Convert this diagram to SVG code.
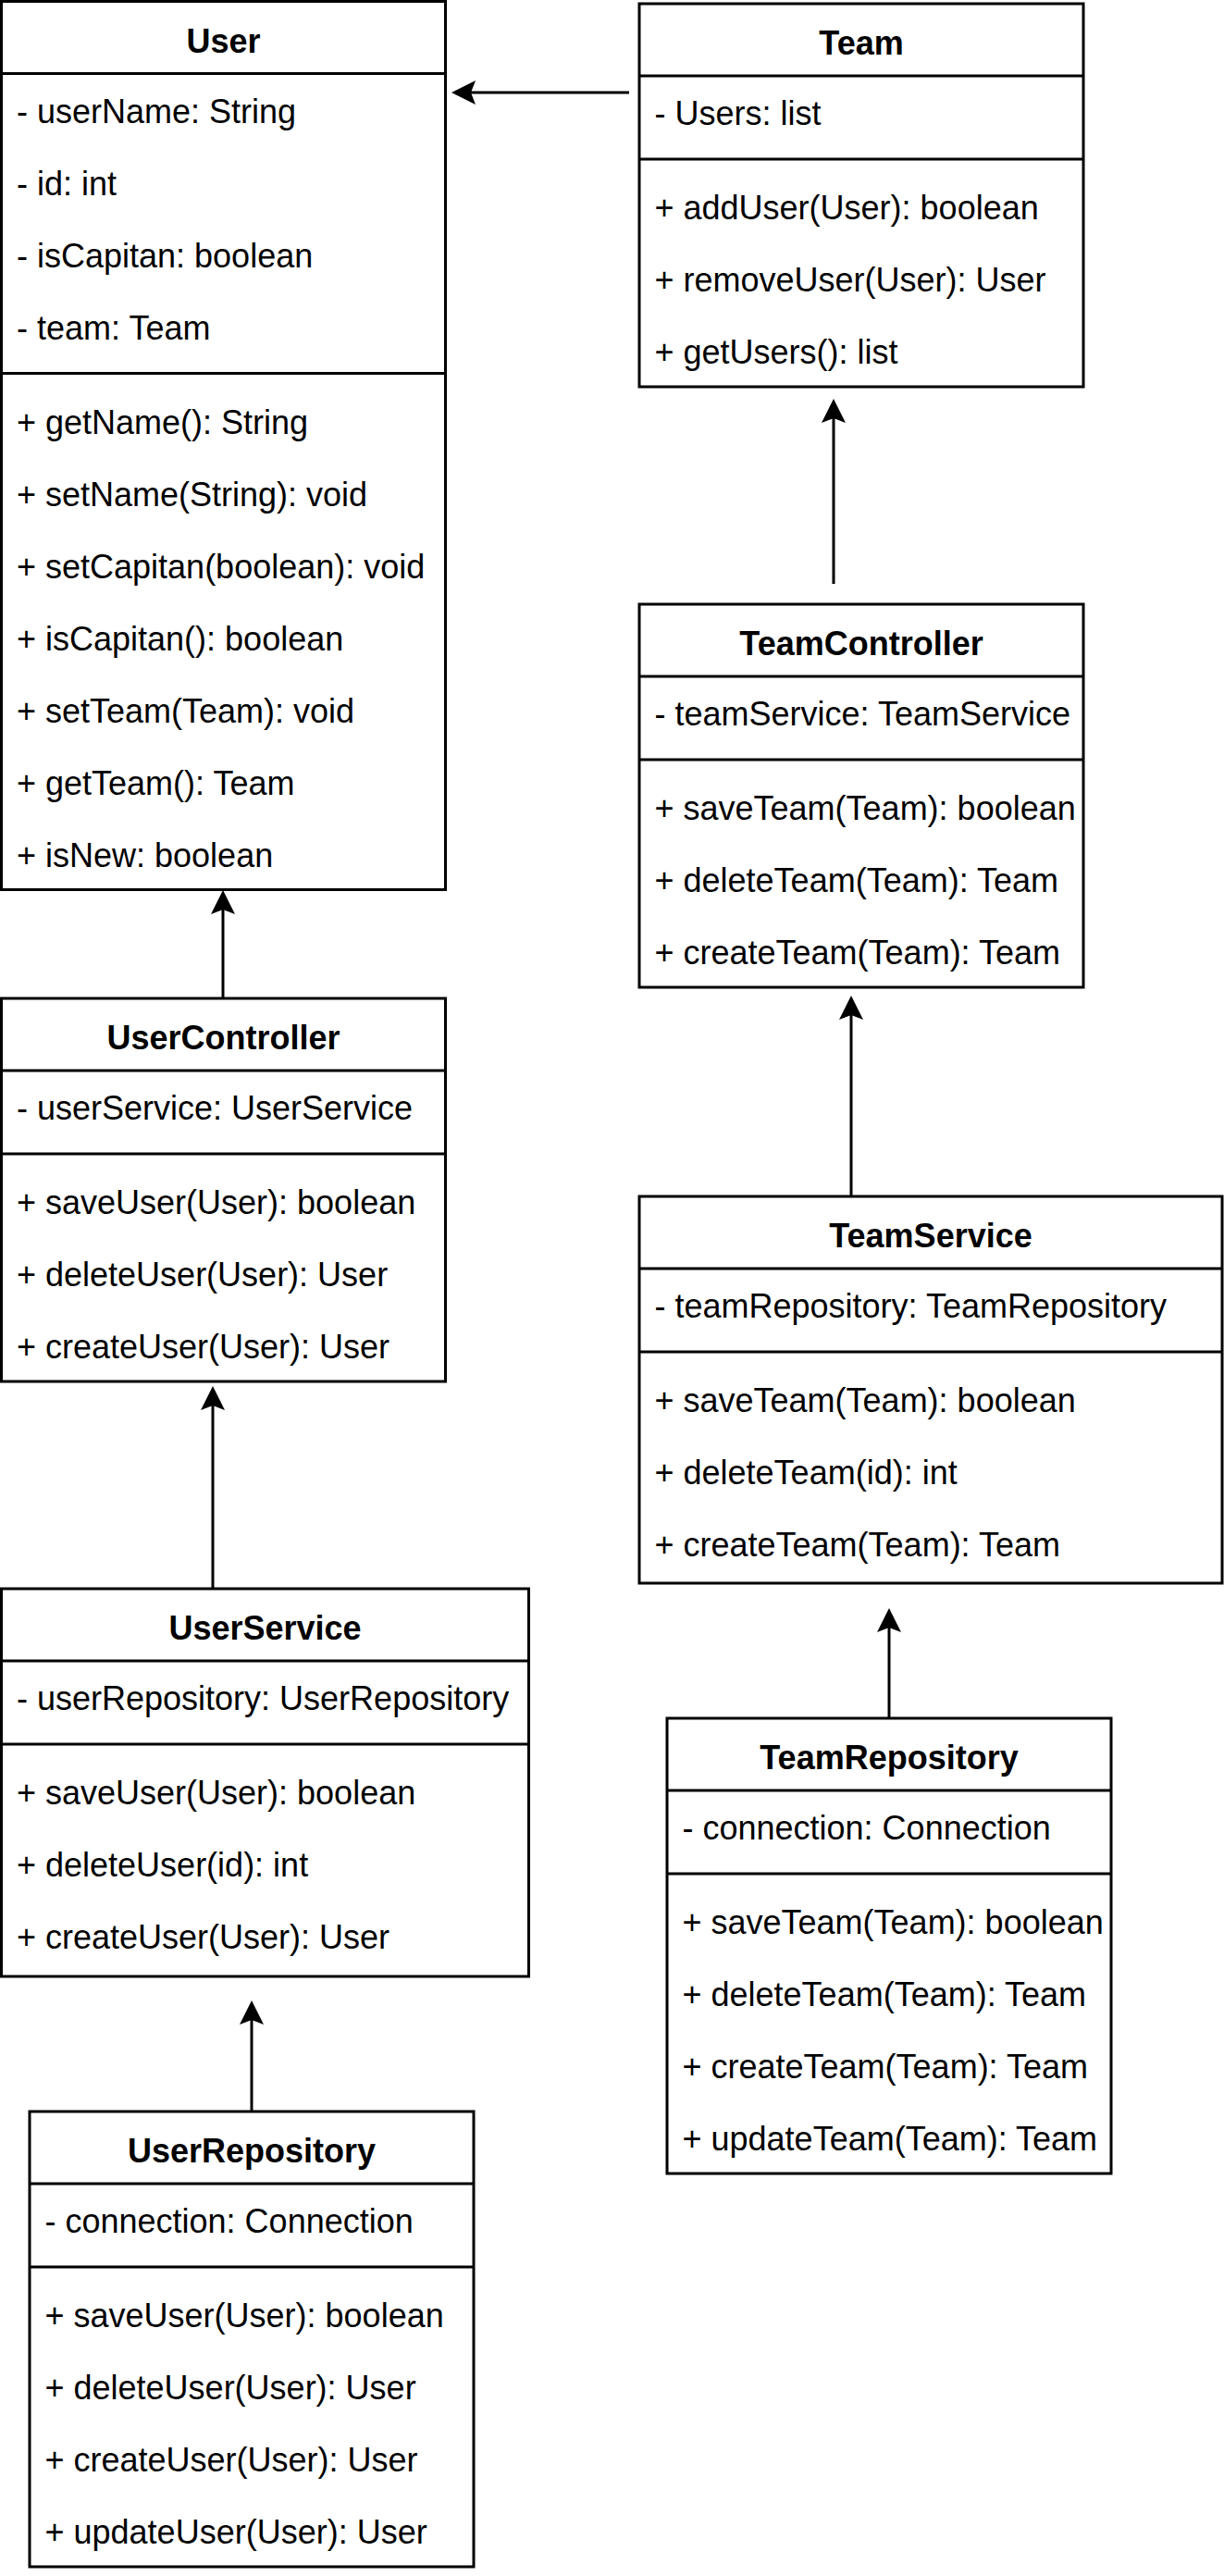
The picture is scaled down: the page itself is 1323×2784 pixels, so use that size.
<svg xmlns="http://www.w3.org/2000/svg" width="1323" height="2784" viewBox="0 0 1323 2784">
<style>
.box{fill:#fff;stroke:#000;stroke-width:3}
.sep{stroke:#000;stroke-width:3}
.t{font-family:"Liberation Sans",Arial,Helvetica,sans-serif;font-size:36px;fill:#000}
.h{font-weight:bold;text-anchor:middle}
.c{fill:none;stroke:#000;stroke-width:3}
</style>
<defs>
<marker id="arr" markerUnits="userSpaceOnUse" viewBox="-6 -14 28 28" refX="0" refY="0" markerWidth="28" markerHeight="28" orient="auto">
<path d="M21,0 L-5,-13 L0,0 L-5,13 Z" fill="#000"/>
</marker>
</defs>
<rect width="1323" height="2784" fill="#fff"/>
<g id="connectors">
<line class="c" x1="680" y1="100" x2="509" y2="100" marker-end="url(#arr)"/>
<line class="c" x1="241" y1="1079" x2="241" y2="983" marker-end="url(#arr)"/>
<line class="c" x1="230" y1="1717" x2="230" y2="1519" marker-end="url(#arr)"/>
<line class="c" x1="272" y1="2282" x2="272" y2="2183" marker-end="url(#arr)"/>
<line class="c" x1="901" y1="631" x2="901" y2="452" marker-end="url(#arr)"/>
<line class="c" x1="920" y1="1293" x2="920" y2="1097" marker-end="url(#arr)"/>
<line class="c" x1="961" y1="1857" x2="961" y2="1759" marker-end="url(#arr)"/>
</g>
<g id="User">
<rect class="box" x="1.5" y="1.5" width="480" height="960"/>
<line class="sep" x1="1.5" y1="79.5" x2="481.5" y2="79.5"/>
<line class="sep" x1="1.5" y1="403.5" x2="481.5" y2="403.5"/>
<text class="t h" x="241.5" y="56.5">User</text>
<text class="t" x="18" y="132.5">- userName: String</text>
<text class="t" x="18" y="210.5">- id: int</text>
<text class="t" x="18" y="288.5">- isCapitan: boolean</text>
<text class="t" x="18" y="366.5">- team: Team</text>
<text class="t" x="18" y="468.5">+ getName(): String</text>
<text class="t" x="18" y="546.5">+ setName(String): void</text>
<text class="t" x="18" y="624.5">+ setCapitan(boolean): void</text>
<text class="t" x="18" y="702.5">+ isCapitan(): boolean</text>
<text class="t" x="18" y="780.5">+ setTeam(Team): void</text>
<text class="t" x="18" y="858.5">+ getTeam(): Team</text>
<text class="t" x="18" y="936.5">+ isNew: boolean</text>
</g>
<g id="Team">
<rect class="box" x="691" y="4" width="480" height="414"/>
<line class="sep" x1="691" y1="82" x2="1171" y2="82"/>
<line class="sep" x1="691" y1="172" x2="1171" y2="172"/>
<text class="t h" x="931" y="59">Team</text>
<text class="t" x="707.5" y="135">- Users: list</text>
<text class="t" x="707.5" y="237">+ addUser(User): boolean</text>
<text class="t" x="707.5" y="315">+ removeUser(User): User</text>
<text class="t" x="707.5" y="393">+ getUsers(): list</text>
</g>
<g id="TeamController">
<rect class="box" x="691" y="653" width="480" height="414"/>
<line class="sep" x1="691" y1="731" x2="1171" y2="731"/>
<line class="sep" x1="691" y1="821" x2="1171" y2="821"/>
<text class="t h" x="931" y="708">TeamController</text>
<text class="t" x="707.5" y="784">- teamService: TeamService</text>
<text class="t" x="707.5" y="886">+ saveTeam(Team): boolean</text>
<text class="t" x="707.5" y="964">+ deleteTeam(Team): Team</text>
<text class="t" x="707.5" y="1042">+ createTeam(Team): Team</text>
</g>
<g id="TeamService">
<rect class="box" x="691" y="1293" width="630" height="418"/>
<line class="sep" x1="691" y1="1371" x2="1321" y2="1371"/>
<line class="sep" x1="691" y1="1461" x2="1321" y2="1461"/>
<text class="t h" x="1006" y="1348">TeamService</text>
<text class="t" x="707.5" y="1424">- teamRepository: TeamRepository</text>
<text class="t" x="707.5" y="1526">+ saveTeam(Team): boolean</text>
<text class="t" x="707.5" y="1604">+ deleteTeam(id): int</text>
<text class="t" x="707.5" y="1682">+ createTeam(Team): Team</text>
</g>
<g id="TeamRepository">
<rect class="box" x="721" y="1857" width="480" height="492"/>
<line class="sep" x1="721" y1="1935" x2="1201" y2="1935"/>
<line class="sep" x1="721" y1="2025" x2="1201" y2="2025"/>
<text class="t h" x="961" y="1912">TeamRepository</text>
<text class="t" x="737.5" y="1988">- connection: Connection</text>
<text class="t" x="737.5" y="2090">+ saveTeam(Team): boolean</text>
<text class="t" x="737.5" y="2168">+ deleteTeam(Team): Team</text>
<text class="t" x="737.5" y="2246">+ createTeam(Team): Team</text>
<text class="t" x="737.5" y="2324">+ updateTeam(Team): Team</text>
</g>
<g id="UserController">
<rect class="box" x="1.5" y="1079" width="480" height="414"/>
<line class="sep" x1="1.5" y1="1157" x2="481.5" y2="1157"/>
<line class="sep" x1="1.5" y1="1247" x2="481.5" y2="1247"/>
<text class="t h" x="241.5" y="1134">UserController</text>
<text class="t" x="18" y="1210">- userService: UserService</text>
<text class="t" x="18" y="1312">+ saveUser(User): boolean</text>
<text class="t" x="18" y="1390">+ deleteUser(User): User</text>
<text class="t" x="18" y="1468">+ createUser(User): User</text>
</g>
<g id="UserService">
<rect class="box" x="1.5" y="1717" width="570" height="419"/>
<line class="sep" x1="1.5" y1="1795" x2="571.5" y2="1795"/>
<line class="sep" x1="1.5" y1="1885" x2="571.5" y2="1885"/>
<text class="t h" x="286.5" y="1772">UserService</text>
<text class="t" x="18" y="1848">- userRepository: UserRepository</text>
<text class="t" x="18" y="1950">+ saveUser(User): boolean</text>
<text class="t" x="18" y="2028">+ deleteUser(id): int</text>
<text class="t" x="18" y="2106">+ createUser(User): User</text>
</g>
<g id="UserRepository">
<rect class="box" x="32" y="2282" width="480" height="492"/>
<line class="sep" x1="32" y1="2360" x2="512" y2="2360"/>
<line class="sep" x1="32" y1="2450" x2="512" y2="2450"/>
<text class="t h" x="272" y="2337">UserRepository</text>
<text class="t" x="48.5" y="2413">- connection: Connection</text>
<text class="t" x="48.5" y="2515">+ saveUser(User): boolean</text>
<text class="t" x="48.5" y="2593">+ deleteUser(User): User</text>
<text class="t" x="48.5" y="2671">+ createUser(User): User</text>
<text class="t" x="48.5" y="2749">+ updateUser(User): User</text>
</g>
</svg>
